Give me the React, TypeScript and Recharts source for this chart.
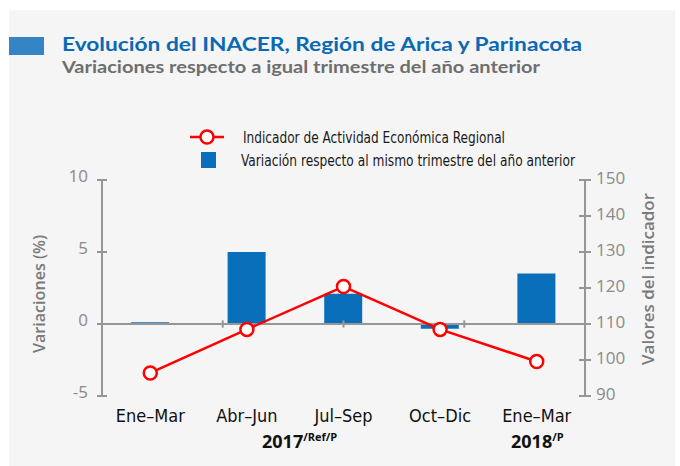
import React from 'react';
import { ComposedChart, Bar, Line, XAxis, YAxis, ReferenceLine } from 'recharts';

const categories = ['Ene–Mar', 'Abr–Jun', 'Jul–Sep', 'Oct–Dic', 'Ene–Mar'];
const variation = [0.12, 5.0, 2.1, -0.33, 3.5];
const indicator = [96.4, 108.5, 120.4, 108.5, 99.6];
const leftTicks = [-5, 0, 5, 10];
const rightTicks = [90, 100, 110, 120, 130, 140, 150];
const seriesNames = ['Indicador de Actividad Económica Regional', 'Variación respecto al mismo trimestre del año anterior'];
const title = 'Evolución del INACER, Región de Arica y Parinacota';
const subtitle = 'Variaciones respecto a igual trimestre del año anterior';
const leftLabel = 'Variaciones (%)';
const rightLabel = 'Valores del indicador';
const years = [
  { year: '2017', note: '/Ref/P' },
  { year: '2018', note: '/P' },
];

const data = categories.map((cat, i) => ({ cat, variation: variation[i], indicator: indicator[i] }));
const boundaries = categories.slice(1).map((_, i) => i + 1);

const AXIS = '#969696';
const TICK_TEXT = '#8a8a8a';
const BLUE = '#0a6fba';
const RED = '#ff0000';
const NUM_FONT = "'Open Sans', sans-serif";
const HEAD_FONT = "Lato, 'Open Sans', sans-serif";
const NARROW = "'Liberation Sans Narrow', 'DejaVu Sans Condensed', 'Roboto', sans-serif";

const LeftTick = (props: any) => {
  const { x, y, payload } = props;
  return (
    <g>
      <line x1={x - 5} x2={x + 5} y1={y} y2={y} stroke={AXIS} strokeWidth={2} />
      <text x={x - 14} y={y - 4} dy="0.35em" textAnchor="end" fill={TICK_TEXT} fontSize={17} fontFamily={NUM_FONT}>
        {payload.value}
      </text>
    </g>
  );
};

const RightTick = (props: any) => {
  const { x, y, payload } = props;
  return (
    <g>
      <line x1={x - 6} x2={x + 6} y1={y} y2={y} stroke={AXIS} strokeWidth={2} />
      <text x={x + 11} y={y - 2} dy="0.35em" textAnchor="start" fill={TICK_TEXT} fontSize={17} fontFamily={NUM_FONT}>
        {payload.value}
      </text>
    </g>
  );
};

const CatTick = (props: any) => {
  const { x, y, payload } = props;
  return (
    <text x={x} y={y + 26} textAnchor="middle" fill="#111" fontSize={18} fontWeight={500} fontFamily={NARROW}>
      {payload.value}
    </text>
  );
};

const SX = 0.8;

export default function App() {
  return (
    <div style={{ position: 'absolute', left: 0, top: 0, width: 680, height: 466, background: '#ffffff', overflow: 'hidden' }}>
      <div style={{ position: 'absolute', left: 9, top: 10, width: 666, height: 456, background: '#f5f5f5' }} />
      <div style={{ position: 'absolute', left: 0, top: 0 }}>
        <ComposedChart width={680} height={466} data={data} margin={{ top: 180, right: 0, bottom: 40, left: 0 }}>
          <XAxis dataKey="cat" xAxisId="cat" axisLine={false} tickLine={false} tickSize={0} tickMargin={0} height={30} interval={0} tick={<CatTick />} />
          <XAxis xAxisId="grid" type="number" domain={[0, categories.length]} allowDataOverflow hide />
          <YAxis yAxisId="left" orientation="left" width={102} domain={[-5, 10]} ticks={leftTicks} interval={0}
            axisLine={{ stroke: AXIS, strokeWidth: 2 }} tickLine={false} tickSize={0} tickMargin={0} tick={<LeftTick />} />
          <YAxis yAxisId="right" orientation="right" width={95} domain={[90, 150]} ticks={rightTicks} interval={0}
            axisLine={{ stroke: AXIS, strokeWidth: 2 }} tickLine={false} tickSize={0} tickMargin={0} tick={<RightTick />} />
          <ReferenceLine xAxisId="cat" yAxisId="left" y={0} stroke={AXIS} strokeWidth={2} />
          {boundaries.map((b) => (
            <ReferenceLine key={b} xAxisId="grid" yAxisId="left" segment={[{ x: b, y: -0.25 }, { x: b, y: 0.25 }]} stroke={AXIS} strokeWidth={2} />
          ))}
          <Bar xAxisId="cat" yAxisId="left" dataKey="variation" fill={BLUE} barSize={38} isAnimationActive={false} />
          <Line xAxisId="cat" yAxisId="right" dataKey="indicator" stroke={RED} strokeWidth={2.5}
            dot={{ r: 6.5, fill: '#ffffff', stroke: RED, strokeWidth: 2.5 }} activeDot={false} isAnimationActive={false} />
        </ComposedChart>
      </div>
      <svg width={680} height={466} style={{ position: 'absolute', left: 0, top: 0, pointerEvents: 'none' }}>
        <rect x={9} y={37} width={35} height={18} fill="#3484c6" />
        <text transform={`translate(62,50.5) scale(${SX},1)`} fill="#0b69b4" fontSize={19.5} fontWeight={700} fontFamily={HEAD_FONT} textLength={520 / SX} lengthAdjust="spacingAndGlyphs">{title}</text>
        <text transform={`translate(62,72.5) scale(${SX},1)`} fill="#6e6e6e" fontSize={17.5} fontWeight={700} fontFamily={HEAD_FONT} textLength={478 / SX} lengthAdjust="spacingAndGlyphs">{subtitle}</text>

        <line x1={190} x2={224} y1={137} y2={137} stroke={RED} strokeWidth={2.5} />
        <circle cx={207} cy={137} r={6.5} fill="#ffffff" stroke={RED} strokeWidth={2.5} />
        <text transform={`translate(243,143) scale(${SX},1)`} fill="#1a1a1a" fontSize={16.5} fontFamily={NARROW} textLength={262 / SX} lengthAdjust="spacingAndGlyphs">{seriesNames[0]}</text>
        <rect x={201} y={152} width={15} height={16} fill={BLUE} />
        <text transform={`translate(241,166) scale(${SX},1)`} fill="#1a1a1a" fontSize={16.5} fontFamily={NARROW} textLength={334 / SX} lengthAdjust="spacingAndGlyphs">{seriesNames[1]}</text>

        <text transform="translate(45,294) rotate(-90)" textAnchor="middle" fill="#7a7a7a" fontSize={16} fontWeight={600} fontFamily={"'Open Sans', sans-serif"} textLength={118} lengthAdjust="spacingAndGlyphs">{leftLabel}</text>
        <text transform="translate(654,279) rotate(-90)" textAnchor="middle" fill="#7a7a7a" fontSize={16} fontWeight={600} fontFamily={"'Open Sans', sans-serif"} textLength={172} lengthAdjust="spacingAndGlyphs">{rightLabel}</text>

        <text x={262} y={448} fill="#111" fontSize={18} fontWeight={700} fontFamily={"'Open Sans', sans-serif"}>
          {years[0].year}<tspan fontSize={11} dy={-7}>{years[0].note}</tspan>
        </text>
        <text x={511} y={448} fill="#111" fontSize={18} fontWeight={700} fontFamily={"'Open Sans', sans-serif"}>
          {years[1].year}<tspan fontSize={11} dy={-7}>{years[1].note}</tspan>
        </text>
      </svg>
    </div>
  );
}
